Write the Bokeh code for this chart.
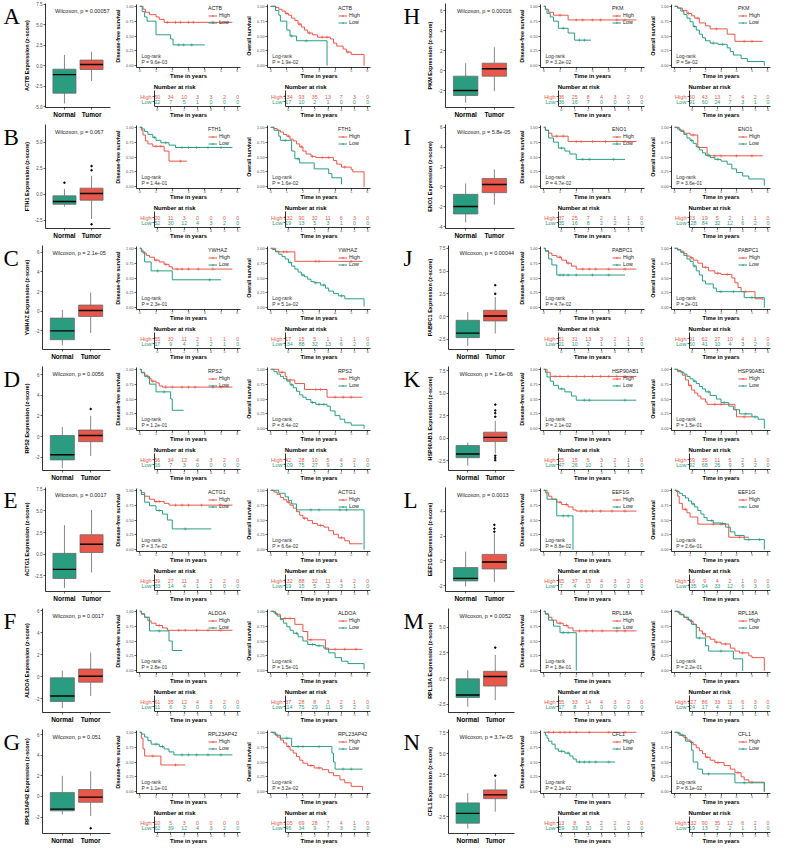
from bokeh.plotting import figure
from bokeh.models import (Range1d, FactorRange, FixedTicker, Label, Legend, LegendItem,
                          Spacer, NumeralTickFormatter)
from bokeh.layouts import row, column
from bokeh.embed import file_html
from bokeh.resources import INLINE
from bokeh.core.properties import value

# ---------------------------------------------------------------- data
GENES = ["ACTB", "FTH1", "YWHAZ", "RPS2", "ACTG1", "ALDOA", "RPL23AP42",
         "PKM", "ENO1", "PABPC1", "HSP90AB1", "EEF1G", "RPL18A", "CFL1"]
LETTERS = ["A", "B", "C", "D", "E", "F", "G", "H", "I", "J", "K", "L", "M", "N"]
GROUPS = ["Normal", "Tumor"]
TIME_TICKS = [0, 1, 2, 3, 4, 5, 6]
SURV_TICKS = [0, 0.25, 0.5, 0.75, 1.0]

WILCOX_P = ["0.00057", "0.067", "2.1e-05", "0.0056", "0.0017", "0.0017", "0.051",
            "0.00016", "5.8e-05", "0.00044", "1.6e-06", "0.0013", "0.0052", "3.7e-05"]
DFS_P = ["9.6e-03", "1.4e-01", "2.3e-01", "1.2e-01", "3.7e-02", "2.8e-01", "1.1e-01",
         "3.2e-02", "4.7e-02", "4.7e-02", "2.1e-02", "8.8e-02", "1.8e-01", "2.1e-02"]
OS_P = ["1.9e-02", "1.6e-02", "5.1e-02", "8.4e-02", "6.6e-02", "1.5e-01", "3.2e-02",
        "5e-02", "3.6e-01", "2e-01", "1.5e-01", "2.6e-01", "2.2e-01", "8.1e-02"]

# boxplot stats: (lower whisker, q1, median, q3, upper whisker)
BOX_NORMAL = [(-4.6, -3.35, -1.08, -0.42, 1.32), (-1.2, -0.97, -0.7, -0.16, 0.5),
              (-3.5, -2.9, -2.0, -0.7, 0.13), (-3.07, -2.27, -1.77, 0.1, 0.93),
              (-3.9, -2.8, -1.75, 0.1, 3.35), (-2.85, -2.25, -1.75, -0.1, 0.55),
              (-1.73, -1.4, -1.23, 0.37, 2.0), (-3.23, -2.5, -2.0, -0.57, 0.73),
              (-3.58, -2.73, -1.98, -0.75, 0.34), (-3.2, -2.3, -1.8, -0.4, 0.5),
              (-3.07, -2.17, -1.76, -0.82, -0.5), (-2.05, -1.6, -1.4, -0.53, 0.75),
              (-2.73, -1.84, -1.6, -0.03, 0.8), (-3.9, -3.27, -2.1, -0.85, 0.3)]
BOX_TUMOR = [(-1.87, -0.46, 0.16, 0.69, 1.72), (-2.4, -0.58, 0.06, 0.58, 1.77),
             (-2.2, -0.53, 0.07, 0.63, 1.9), (-1.9, -0.5, 0.1, 0.63, 2.0),
             (-2.1, 0.2, 1.15, 2.25, 5.1), (-1.75, -0.5, 0.05, 0.7, 2.2),
             (-1.9, -0.57, -0.07, 0.67, 2.43), (-2.07, -0.57, 0.17, 0.73, 2.33),
             (-1.8, -0.58, 0.24, 0.85, 1.77), (-1.85, -0.47, 0.07, 0.7, 2.15),
             (-1.7, -0.37, 0.1, 0.67, 1.95), (-1.7, -0.64, -0.08, 0.53, 2.2),
             (-2.1, -0.73, 0.2, 0.7, 2.3), (-1.9, -0.35, 0.1, 0.7, 1.96)]
OUT_NORMAL = [[], [1.1], [], [], [], [], [], [], [], [], [], [], [], []]
OUT_TUMOR = [[], [2.3, 2.7, -2.9], [], [2.67], [], [], [-3.1], [], [], [2.5, 3.45],
             [2.4, 2.8, 3.1, 3.75, -1.95, -2.2, -2.45], [2.35, 2.6, 2.9], [3.0], [2.4]]
BOX_YLIM = [(-5.1, 7.6), (-3.3, 6.7), (-3.9, 6.7), (-3.3, 6.8), (-4.3, 7.7), (-3.25, 6.2),
            (-3.6, 6.5), (-3.7, 6.7), (-4.2, 6.3), (-3.6, 7.8), (-3.6, 8.0), (-2.45, 5.9),
            (-3.3, 6.8), (-4.5, 7.9)]
BOX_TICKS = [[-5, -2.5, 0, 2.5, 5, 7.5], [-2.5, 0, 2.5, 5], [-2, 0, 2, 4, 6], [-2, 0, 2, 4, 6],
             [-2.5, 0, 2.5, 5, 7.5], [-2, 0, 2, 4, 6], [-2, 0, 2, 4, 6], [-2, 0, 2, 4, 6],
             [-4, -2, 0, 2, 4, 6], [-2.5, 0, 2.5, 5, 7.5], [-2.5, 0, 2.5, 5, 7.5], [-2, 0, 2, 4],
             [-2.5, 0, 2.5, 5], [-2.5, 0, 2.5, 5, 7.5]]

# numbers at risk at t = 0..6
DFS_RISK_HIGH = [[50, 34, 10, 3, 3, 2, 0], [20, 11, 3, 0, 0, 0, 0], [55, 32, 11, 2, 1, 1, 0],
                 [56, 34, 12, 4, 3, 2, 0], [39, 27, 11, 3, 2, 2, 0], [61, 35, 12, 4, 3, 2, 0],
                 [10, 5, 3, 0, 0, 0, 0], [36, 25, 8, 4, 3, 2, 0], [37, 25, 7, 2, 1, 1, 0],
                 [51, 31, 13, 3, 2, 1, 0], [25, 15, 5, 3, 2, 1, 0], [65, 37, 15, 4, 3, 2, 0],
                 [55, 33, 14, 4, 3, 2, 0], [13, 8, 5, 2, 2, 2, 0]]
DFS_RISK_LOW = [[22, 7, 5, 1, 0, 0, 0], [52, 30, 12, 4, 3, 2, 0], [17, 9, 4, 2, 2, 1, 0],
                [16, 7, 3, 0, 0, 0, 0], [33, 14, 4, 1, 1, 0, 0], [11, 6, 3, 0, 0, 0, 0],
                [62, 39, 12, 4, 3, 2, 0], [36, 16, 7, 0, 0, 0, 0], [35, 16, 8, 2, 2, 1, 0],
                [21, 10, 2, 1, 1, 1, 0], [47, 26, 10, 1, 1, 1, 0], [7, 4, 0, 0, 0, 0, 0],
                [17, 8, 1, 0, 0, 0, 0], [59, 33, 10, 2, 1, 0, 0]]
OS_RISK_HIGH = [[134, 93, 35, 13, 7, 3, 0], [132, 90, 32, 11, 6, 3, 0], [17, 15, 5, 1, 1, 1, 0],
                [42, 28, 10, 5, 4, 2, 0], [132, 88, 32, 11, 4, 2, 0], [37, 28, 8, 3, 2, 1, 0],
                [105, 69, 28, 7, 4, 1, 0], [60, 43, 13, 7, 4, 2, 0], [23, 19, 5, 2, 1, 1, 0],
                [91, 62, 27, 10, 4, 1, 0], [59, 35, 11, 5, 2, 1, 0], [16, 9, 4, 2, 1, 0, 0],
                [127, 86, 33, 11, 6, 3, 0], [132, 90, 35, 12, 6, 2, 0]]
OS_RISK_LOW = [[17, 10, 2, 1, 0, 0, 0], [19, 13, 5, 3, 1, 0, 0], [134, 88, 32, 13, 6, 2, 0],
               [109, 75, 27, 9, 3, 1, 0], [19, 15, 5, 3, 3, 1, 0], [114, 75, 29, 11, 5, 2, 0],
               [46, 34, 9, 7, 3, 2, 0], [91, 60, 24, 7, 3, 1, 0], [128, 84, 32, 12, 6, 2, 0],
               [60, 41, 10, 4, 3, 2, 0], [92, 68, 26, 9, 5, 2, 0], [135, 94, 33, 12, 6, 3, 0],
               [24, 17, 4, 3, 1, 0, 0], [19, 13, 2, 2, 1, 1, 0]]

# Kaplan-Meier curves: (time, survival after the step); censor times
ACTB_DFS_HIGH = [(0.2, .95), (0.35, .9), (0.6, .86), (1.0, .82), (1.2, .78), (1.5, .73), (5.7, .73)]
ACTB_DFS_HIGH_C = [1.7, 2.2, 2.5, 3.0, 3.3, 4.5, 5.0]
ACTB_DFS_LOW = [(0.15, .91), (0.3, .82), (0.45, .75), (1.0, .52), (1.9, .45), (2.05, .35), (4.0, .35)]
ACTB_DFS_LOW_C = [2.4, 2.7, 3.2]
ACTB_OS_HIGH = [(0.3, .98), (0.5, .95), (0.7, .92), (0.9, .88), (1.1, .85), (1.3, .8), (1.5, .76),
                (1.7, .7), (1.9, .65), (2.1, .6), (2.3, .55), (2.6, .52), (2.9, .48), (3.7, .45),
                (3.9, .38), (4.1, .33), (4.5, .28), (4.7, .23), (5.0, .19), (5.8, 0.0)]
ACTB_OS_HIGH_C = [1.0, 1.8, 2.4, 3.2, 3.5, 4.8]
ACTB_OS_LOW = [(0.3, .93), (0.5, .85), (0.6, .75), (1.0, .6), (1.2, .5), (1.6, .42), (3.5, 0.0)]
ACTB_OS_LOW_C = [1.3, 2.2]

FTH1_DFS_HIGH = [(0.1, .95), (0.2, .87), (0.35, .77), (0.5, .72), (0.8, .68), (1.5, .6), (1.8, .43), (2.9, .43)]
FTH1_DFS_HIGH_C = [1.0, 1.3, 2.5]
FTH1_DFS_LOW = [(0.15, .97), (0.3, .93), (0.5, .88), (0.8, .83), (1.0, .78), (1.3, .74), (1.8, .7),
                (2.2, .66), (5.7, .66)]
FTH1_DFS_LOW_C = [0.9, 1.6, 2.6, 3.0, 3.5, 4.2, 5.0]
FTH1_OS_HIGH = [(0.2, .98), (0.4, .95), (0.6, .92), (0.8, .88), (1.0, .85), (1.2, .8), (1.4, .77),
                (1.6, .72), (1.8, .67), (2.0, .6), (2.2, .55), (2.5, .51), (2.8, .49), (3.9, .44),
                (4.1, .38), (4.4, .33), (5.0, .29), (5.1, .25), (5.8, 0.0)]
FTH1_OS_HIGH_C = [1.1, 1.9, 2.6, 3.2, 3.6, 4.6]
FTH1_OS_LOW = [(0.2, .95), (0.5, .85), (0.6, .78), (1.3, .6), (1.5, .47), (1.8, .4), (2.7, .3),
               (3.6, .22), (3.8, .15), (4.4, .04)]
FTH1_OS_LOW_C = [0.9, 1.7]

YWHAZ_DFS_HIGH = [(0.1, .97), (0.2, .92), (0.4, .88), (0.6, .85), (0.9, .8), (1.2, .77), (1.5, .73),
                  (1.8, .69), (2.0, .65), (5.7, .65)]
YWHAZ_DFS_HIGH_C = [1.0, 1.6, 2.3, 2.6, 3.0, 3.6, 4.5]
YWHAZ_DFS_LOW = [(0.1, .94), (0.3, .77), (0.7, .62), (2.0, .47), (5.0, .47)]
YWHAZ_DFS_LOW_C = [1.1, 4.3]
YWHAZ_OS_HIGH = [(0.3, .94), (1.5, .78), (5.7, .78)]
YWHAZ_OS_HIGH_C = [0.8, 1.0, 2.8, 3.0, 5.0]
YWHAZ_OS_LOW = [(0.1, .98), (0.3, .95), (0.5, .9), (0.7, .86), (0.9, .82), (1.1, .76), (1.3, .7),
                (1.5, .65), (1.7, .6), (1.9, .55), (2.1, .52), (2.3, .48), (2.5, .44), (2.7, .42),
                (3.1, .38), (3.4, .33), (3.6, .28), (3.9, .24), (4.2, .2), (4.6, .15), (5.8, .02)]
YWHAZ_OS_LOW_C = [1.2, 2.0, 2.8, 3.3, 4.4]

RPS2_DFS_HIGH = [(0.1, .95), (0.3, .9), (0.5, .85), (0.7, .8), (1.0, .77), (1.2, .72), (1.4, .7), (5.7, .7)]
RPS2_DFS_HIGH_C = [0.8, 1.6, 2.0, 2.6, 3.0, 3.4, 4.5, 5.0]
RPS2_DFS_LOW = [(0.1, .94), (0.3, .88), (0.6, .75), (1.0, .62), (1.9, .5), (2.0, .31), (2.7, .31)]
RPS2_DFS_LOW_C = [1.5]
RPS2_OS_HIGH = [(0.5, .95), (0.9, .88), (1.0, .82), (1.5, .76), (2.1, .66), (3.5, .53), (5.7, .53)]
RPS2_OS_HIGH_C = [0.7, 1.2, 2.8, 3.1, 4.0, 4.5, 5.0]
RPS2_OS_LOW = [(0.2, .96), (0.4, .92), (0.6, .88), (0.8, .84), (1.0, .8), (1.2, .74), (1.4, .69),
               (1.6, .63), (1.8, .57), (2.0, .53), (2.2, .49), (2.5, .44), (2.8, .41), (3.5, .38),
               (3.7, .3), (4.0, .22), (4.3, .16), (4.6, .1), (5.0, .06), (5.8, 0.0)]
RPS2_OS_LOW_C = [1.3, 2.6, 3.0, 3.3]

ACTG1_DFS_HIGH = [(0.1, .96), (0.3, .9), (0.6, .85), (0.9, .81), (1.5, .78), (1.8, .75), (5.7, .75)]
ACTG1_DFS_HIGH_C = [1.0, 1.2, 2.2, 2.6, 3.0, 3.8, 5.0]
ACTG1_DFS_LOW = [(0.1, .93), (0.3, .8), (0.6, .74), (1.0, .66), (1.4, .6), (1.7, .5), (2.0, .35), (4.4, .35)]
ACTG1_DFS_LOW_C = [1.2, 2.8]
ACTG1_OS_HIGH = [(0.2, .97), (0.4, .93), (0.6, .88), (0.8, .84), (1.0, .8), (1.2, .75), (1.4, .7),
                 (1.6, .64), (1.8, .58), (2.0, .53), (2.3, .49), (2.6, .44), (2.9, .41), (3.3, .38),
                 (3.6, .32), (3.9, .26), (4.2, .2), (4.6, .15), (4.9, .1), (5.7, .1)]
ACTG1_OS_HIGH_C = [1.1, 2.1, 3.1, 4.4]
ACTG1_OS_LOW = [(0.5, .95), (0.9, .89), (1.1, .83), (1.3, .77), (1.6, .67), (5.8, 0.0)]
ACTG1_OS_LOW_C = [2.5, 3.0, 4.3, 4.7]

ALDOA_DFS_HIGH = [(0.1, .95), (0.3, .9), (0.5, .84), (0.7, .8), (1.0, .76), (1.4, .72), (1.7, .68), (5.7, .68)]
ALDOA_DFS_HIGH_C = [1.2, 2.4, 2.8, 3.5, 4.2, 5.0]
ALDOA_DFS_LOW = [(0.1, .96), (0.3, .9), (0.6, .67), (1.8, .5), (2.0, .34), (2.6, .34)]
ALDOA_DFS_LOW_C = [1.2]
ALDOA_OS_HIGH = [(0.3, .95), (0.6, .88), (1.5, .78), (2.0, .66), (2.3, .52), (3.4, .36), (5.7, .36)]
ALDOA_OS_HIGH_C = [0.9, 1.2, 2.5, 4.0, 4.6, 5.3]
ALDOA_OS_LOW = [(0.2, .97), (0.4, .92), (0.6, .86), (0.8, .8), (1.0, .74), (1.2, .68), (1.4, .63),
                (1.7, .57), (2.0, .5), (2.3, .44), (2.8, .42), (3.3, .38), (3.6, .3), (4.0, .22),
                (4.4, .16), (4.8, .12), (5.8, .02)]
ALDOA_OS_LOW_C = [1.6, 2.6, 3.0]

RPL23AP42_DFS_HIGH = [(0.1, .9), (0.2, .72), (0.3, .6), (1.3, .45), (2.8, .45)]
RPL23AP42_DFS_HIGH_C = [0.8, 2.2]
RPL23AP42_DFS_LOW = [(0.1, .97), (0.3, .92), (0.5, .86), (0.7, .8), (1.2, .76), (1.5, .72), (1.8, .67),
                     (2.1, .62), (5.7, .62)]
RPL23AP42_DFS_LOW_C = [1.0, 1.4, 2.6, 3.0, 3.5, 4.2, 5.0]
RPL23AP42_OS_HIGH = [(0.2, .97), (0.4, .92), (0.6, .87), (0.8, .82), (1.0, .76), (1.2, .7), (1.4, .65),
                     (1.6, .59), (1.8, .53), (2.0, .48), (2.3, .44), (2.7, .4), (3.2, .37), (3.6, .32),
                     (3.9, .27), (4.3, .2), (4.6, .15), (5.0, .09), (5.7, .02)]
RPL23AP42_OS_HIGH_C = [1.1, 2.5, 3.0]
RPL23AP42_OS_LOW = [(0.3, .95), (0.6, .9), (1.3, .76), (3.8, .65), (3.9, .5), (4.0, .38), (5.7, .38)]
RPL23AP42_OS_LOW_C = [1.0, 1.7, 2.0, 3.0, 4.5, 5.0]

PKM_DFS_HIGH = [(0.1, .95), (0.3, .9), (0.6, .85), (1.5, .77), (5.7, .77)]
PKM_DFS_HIGH_C = [1.0, 2.0, 2.4, 3.0, 3.5, 4.5, 5.0]
PKM_DFS_LOW = [(0.1, .95), (0.2, .88), (0.4, .82), (0.6, .75), (0.9, .63), (1.5, .55), (1.9, .43), (2.9, .43)]
PKM_DFS_LOW_C = [1.2, 2.2, 2.5]
PKM_OS_HIGH = [(0.2, .97), (0.5, .93), (0.8, .88), (1.1, .84), (1.3, .8), (1.6, .72), (2.0, .67),
               (2.3, .62), (3.4, .53), (3.9, .41), (5.7, .41)]
PKM_OS_HIGH_C = [0.9, 1.5, 2.7, 4.5, 5.0]
PKM_OS_LOW = [(0.2, .97), (0.4, .92), (0.6, .86), (0.8, .8), (1.0, .74), (1.2, .66), (1.4, .6),
              (1.6, .53), (1.8, .47), (2.0, .42), (2.3, .38), (2.8, .36), (3.4, .3), (3.6, .24),
              (3.8, .18), (4.3, .12), (4.7, .07), (5.8, 0.0)]
PKM_OS_LOW_C = [1.3, 2.5, 3.1]

ENO1_DFS_HIGH = [(0.1, .95), (0.3, .9), (0.5, .85), (1.5, .76), (5.7, .76)]
ENO1_DFS_HIGH_C = [0.8, 1.2, 2.0, 2.3, 3.0, 3.8, 4.5, 5.0]
ENO1_DFS_LOW = [(0.1, .95), (0.3, .82), (0.6, .75), (0.9, .65), (1.3, .6), (1.6, .55), (2.0, .46), (5.0, .46)]
ENO1_DFS_LOW_C = [1.1, 2.4, 2.8, 4.3]
ENO1_OS_HIGH = [(0.3, .95), (0.6, .9), (1.0, .87), (1.5, .66), (2.1, .52), (5.7, .52)]
ENO1_OS_HIGH_C = [1.2, 2.6, 3.0, 4.0, 5.0]
ENO1_OS_LOW = [(0.2, .97), (0.4, .93), (0.6, .88), (0.8, .82), (1.0, .78), (1.2, .73), (1.4, .67),
               (1.6, .62), (1.8, .57), (2.0, .53), (2.3, .49), (2.6, .46), (3.0, .43), (3.4, .38),
               (3.7, .3), (4.0, .24), (4.4, .18), (4.8, .13), (5.8, .02)]
ENO1_OS_LOW_C = [1.1, 2.2, 2.8]

PABPC1_DFS_HIGH = [(0.1, .96), (0.3, .92), (0.5, .88), (0.8, .85), (1.1, .8), (1.4, .75), (1.7, .7),
                   (2.0, .65), (5.7, .65)]
PABPC1_DFS_HIGH_C = [1.0, 1.5, 2.4, 2.8, 3.2, 4.0, 5.0]
PABPC1_DFS_LOW = [(0.1, .95), (0.3, .82), (0.5, .72), (0.8, .55), (5.0, .55)]
PABPC1_DFS_LOW_C = [1.0, 1.2, 1.5, 2.0, 3.0, 4.0]
PABPC1_OS_HIGH = [(0.2, .98), (0.4, .95), (0.6, .91), (0.8, .87), (1.0, .84), (1.2, .8), (1.5, .75),
                  (1.8, .68), (2.2, .62), (2.6, .58), (3.0, .56), (3.7, .5), (3.9, .42), (4.1, .34),
                  (4.3, .27), (5.2, .15), (5.7, .13)]
PABPC1_OS_HIGH_C = [1.1, 2.0, 2.8, 3.4, 4.6]
PABPC1_OS_LOW = [(0.2, .97), (0.4, .93), (0.6, .88), (0.8, .82), (1.0, .78), (1.2, .7), (1.4, .62),
                 (1.6, .55), (1.8, .45), (2.0, .4), (2.5, .33), (2.7, .27), (4.5, .17), (5.8, 0.0)]
PABPC1_OS_LOW_C = [1.3, 3.0, 3.8, 5.0]

HSP90AB1_DFS_HIGH = [(0.2, .95), (0.4, .88), (5.7, .88)]
HSP90AB1_DFS_HIGH_C = [0.7, 1.0, 1.5, 2.0, 2.5, 3.0, 3.5, 4.0, 4.5, 5.0]
HSP90AB1_DFS_LOW = [(0.1, .95), (0.2, .87), (0.4, .8), (0.6, .73), (0.9, .67), (1.3, .62), (1.7, .55),
                    (2.0, .48), (5.7, .48)]
HSP90AB1_DFS_LOW_C = [1.1, 2.5, 2.8, 5.0]
HSP90AB1_OS_HIGH = [(0.2, .96), (0.5, .9), (0.7, .82), (0.9, .73), (1.1, .65), (1.3, .6), (1.5, .55),
                    (1.7, .5), (2.0, .45), (2.1, .41), (3.9, .32), (4.0, .2), (5.0, .2)]
HSP90AB1_OS_HIGH_C = [1.0, 2.6, 3.0, 4.5]
HSP90AB1_OS_LOW = [(0.2, .98), (0.4, .95), (0.6, .92), (0.8, .88), (1.0, .84), (1.2, .8), (1.4, .76),
                   (1.6, .71), (1.8, .67), (2.0, .62), (2.3, .56), (2.7, .5), (3.0, .44), (3.5, .38),
                   (3.8, .32), (4.2, .25), (5.0, .2), (5.4, .16), (5.8, 0.0)]
HSP90AB1_OS_LOW_C = [1.3, 2.2, 3.2, 4.6, 5.2]

EEF1G_DFS_HIGH = [(0.1, .96), (0.3, .9), (0.5, .85), (0.8, .8), (1.1, .76), (1.5, .72), (1.8, .67),
                  (2.0, .65), (5.7, .65)]
EEF1G_DFS_HIGH_C = [1.0, 1.4, 2.3, 2.6, 3.0, 3.5, 4.2, 5.0]
EEF1G_DFS_LOW = [(0.2, .85), (0.8, .57), (1.8, 0.0)]
EEF1G_DFS_LOW_C = [1.2, 1.5]
EEF1G_OS_HIGH = [(0.2, .9), (0.3, .78), (0.5, .68), (0.8, .62), (1.0, .55), (1.5, .43), (3.5, .21), (4.8, .21)]
EEF1G_OS_HIGH_C = [0.7, 2.5, 3.0, 4.2]
EEF1G_OS_LOW = [(0.1, .98), (0.3, .95), (0.5, .91), (0.7, .87), (0.9, .82), (1.1, .77), (1.3, .72),
                (1.5, .66), (1.7, .6), (1.9, .54), (2.1, .49), (2.5, .45), (3.0, .44), (3.3, .38),
                (3.6, .3), (3.9, .24), (4.5, .17), (5.8, 0.0)]
EEF1G_OS_LOW_C = [1.2, 2.4, 3.1, 4.8, 5.5]

RPL18A_DFS_HIGH = [(0.1, .96), (0.3, .9), (0.5, .85), (0.8, .8), (1.2, .76), (1.5, .72), (1.8, .67), (5.7, .67)]
RPL18A_DFS_HIGH_C = [1.0, 1.4, 2.2, 2.6, 3.0, 3.6, 4.5, 5.0]
RPL18A_DFS_LOW = [(0.1, .95), (0.3, .85), (0.6, .75), (1.0, .64), (2.0, 0.0)]
RPL18A_DFS_LOW_C = [1.2, 1.5]
RPL18A_OS_HIGH = [(0.2, .98), (0.4, .94), (0.6, .9), (0.8, .86), (1.0, .83), (1.2, .78), (1.4, .73),
                  (1.6, .67), (1.8, .62), (2.0, .57), (2.3, .53), (2.6, .48), (3.0, .45), (3.6, .38),
                  (3.9, .33), (4.2, .3), (4.8, .25), (5.0, .22), (5.8, 0.0)]
RPL18A_OS_HIGH_C = [1.1, 1.9, 2.7, 3.3, 4.4]
RPL18A_OS_LOW = [(0.3, .95), (0.6, .9), (0.9, .85), (1.1, .78), (1.4, .55), (2.0, .42), (2.2, .33),
                 (3.8, .2), (4.4, 0.0)]
RPL18A_OS_LOW_C = [1.6, 3.0]

CFL1_DFS_HIGH = [(5.7, 1.0)]
CFL1_DFS_HIGH_C = [0.3, 0.6, 1.0, 1.3, 1.6, 2.0, 2.8, 4.0, 5.0]
CFL1_DFS_LOW = [(0.1, .95), (0.2, .9), (0.3, .85), (0.5, .8), (0.7, .72), (0.9, .68), (1.3, .65),
                (1.6, .6), (1.8, .55), (2.0, .5), (4.4, .5)]
CFL1_DFS_LOW_C = [1.1, 1.5, 2.2, 2.5, 2.8, 3.2, 4.0]
CFL1_OS_HIGH = [(0.2, .98), (0.4, .95), (0.6, .91), (0.8, .87), (1.0, .83), (1.2, .79), (1.4, .74),
                (1.6, .69), (1.8, .64), (2.0, .58), (2.3, .53), (2.6, .49), (3.2, .44), (3.6, .38),
                (3.9, .32), (4.3, .25), (4.5, .2), (4.8, .16), (5.8, 0.0)]
CFL1_OS_HIGH_C = [1.1, 2.1, 2.8, 4.1, 5.0]
CFL1_OS_LOW = [(0.3, .95), (0.7, .85), (1.1, .7), (1.2, .5), (1.5, .38), (1.8, .3), (3.9, .15), (5.8, 0.0)]
CFL1_OS_LOW_C = [0.5, 2.2, 4.5]

_G = globals()
KM = {g: {k: _G[f"{g}_{k}"] for k in ("DFS_HIGH", "DFS_HIGH_C", "DFS_LOW", "DFS_LOW_C",
                                        "OS_HIGH", "OS_HIGH_C", "OS_LOW", "OS_LOW_C")}
      for g in GENES}

# ---------------------------------------------------------------- style
FONT = "Liberation Sans"
SERIF = "Liberation Serif"
RED = "#E8574A"
GREEN = "#2A9D80"
BOX_LINE = "#6a6a6a"
TICK_COL = "#4d4d4d"

ROW_H = 121
KM_H = 82
RISK_H = 39
MBL_KM = 24
MBB = 15
RISK_MBL = 2
RISK_TOP = 4.6


def base(p):
    p.xgrid.visible = False
    p.ygrid.visible = False
    p.outline_line_color = None
    p.background_fill_color = "white"
    for ax in (p.xaxis, p.yaxis):
        ax.axis_line_color = "black"
        ax.axis_line_width = 0.8
        ax.major_tick_line_color = "black"
        ax.major_tick_line_width = 0.6
        ax.major_tick_out = 2
        ax.major_tick_in = 0
        ax.minor_tick_line_color = None
        ax.major_label_standoff = 0
        ax.axis_label_standoff = 0
        ax.major_label_text_font = FONT
        ax.axis_label_text_font = FONT
        ax.axis_label_text_font_style = "bold"
        ax.axis_label_text_color = "black"
        ax.major_label_text_color = TICK_COL


def time_axis(p):
    p.xaxis.ticker = FixedTicker(ticks=TIME_TICKS)
    p.xaxis.major_label_text_font_size = "3.6px"
    p.xaxis.axis_label = "Time in years"
    p.xaxis.axis_label_text_font_size = "5.8px"
    p.xaxis.major_label_standoff = -1
    p.xaxis.axis_label_standoff = -2


def surv_at(curve, t):
    s = 1.0
    for ti, si in curve:
        if ti <= t:
            s = si
        else:
            break
    return s


def letter_fig(i, width, xoff):
    p = figure(width=width, height=ROW_H, x_range=Range1d(0, width), y_range=Range1d(0, ROW_H),
               output_backend="svg", toolbar_location=None, min_border=0)
    p.axis.visible = False
    p.grid.visible = False
    p.outline_line_color = None
    p.text(x=[xoff], y=[ROW_H - 1], text=[LETTERS[i]], text_font=value(SERIF),
           text_font_size="23px", text_color="black", text_baseline="top", text_align="left")
    return p


def box_fig(i, width, mbl, mbr, wil_x):
    ylim = BOX_YLIM[i]
    p = figure(width=width, height=ROW_H,
               x_range=FactorRange(factors=GROUPS, range_padding=0.2, range_padding_units="absolute"),
               y_range=Range1d(*ylim), output_backend="svg", toolbar_location=None,
               min_border_left=mbl, min_border_right=mbr, min_border_top=3, min_border_bottom=14)
    base(p)
    nb, tb = BOX_NORMAL[i], BOX_TUMOR[i]
    lo = [nb[0], tb[0]]
    q1 = [nb[1], tb[1]]
    med = [nb[2], tb[2]]
    q3 = [nb[3], tb[3]]
    hi = [nb[4], tb[4]]
    p.segment(x0=GROUPS, y0=lo, x1=GROUPS, y1=q1, line_color=BOX_LINE, line_width=0.8)
    p.segment(x0=GROUPS, y0=q3, x1=GROUPS, y1=hi, line_color=BOX_LINE, line_width=0.8)
    p.vbar(x=GROUPS, bottom=q1, top=q3, width=0.85, fill_color=[GREEN, RED],
           line_color=BOX_LINE, line_width=0.8)
    p.vbar(x=GROUPS, bottom=med, top=med, width=0.85, fill_alpha=0,
           line_color="black", line_width=1.4)
    ox = ["Normal"] * len(OUT_NORMAL[i]) + ["Tumor"] * len(OUT_TUMOR[i])
    oy = list(OUT_NORMAL[i]) + list(OUT_TUMOR[i])
    p.scatter(x=ox, y=oy, size=1.6, color="black")
    ticks = BOX_TICKS[i]
    p.yaxis.ticker = FixedTicker(ticks=ticks)
    fmt = "0" if all(float(t).is_integer() for t in ticks) else "0.0"
    p.yaxis.formatter = NumeralTickFormatter(format=fmt)
    p.yaxis.major_label_text_font_size = "4.5px"
    p.yaxis.major_label_standoff = 1
    p.yaxis.axis_label_standoff = 2
    p.yaxis.axis_label = f"{GENES[i]} Expression (z-score)"
    p.yaxis.axis_label_text_font_size = "5.5px"
    p.xaxis.major_label_text_font_size = "6.5px"
    p.xaxis.major_label_text_font_style = "bold"
    p.xaxis.major_label_text_color = "black"
    p.xaxis.major_label_standoff = 1
    p.add_layout(Label(x=wil_x, y=ylim[1], y_offset=-4, text=f"Wilcoxon, p = {WILCOX_P[i]}",
                       text_font=FONT, text_font_size="5.5px", text_color="#222222",
                       text_baseline="top", text_align="left"))
    return p


def km_fig(i, kind, width, mbr):
    g = GENES[i]
    d = KM[g]
    p = figure(width=width, height=KM_H, x_range=Range1d(-0.2, 6.2), y_range=Range1d(-0.03, 1.03),
               output_backend="svg", toolbar_location=None,
               min_border_left=MBL_KM, min_border_right=mbr, min_border_top=4, min_border_bottom=MBB)
    base(p)
    time_axis(p)
    p.yaxis.ticker = FixedTicker(ticks=SURV_TICKS)
    p.yaxis.formatter = NumeralTickFormatter(format="0.00")
    p.yaxis.major_label_text_font_size = "3.8px"
    p.yaxis.major_label_standoff = 1
    p.yaxis.axis_label_standoff = 2
    p.yaxis.axis_label = "Disease-free survival" if kind == "DFS" else "Overall survival"
    p.yaxis.axis_label_text_font_size = "5.3px"
    items = []
    for lab, col in (("High", RED), ("Low", GREEN)):
        curve = d[f"{kind}_{lab.upper()}"]
        cens = d[f"{kind}_{lab.upper()}_C"]
        xs = [0.0] + [c[0] for c in curve]
        ys = [1.0] + [c[1] for c in curve]
        r = p.step(x=xs, y=ys, mode="after", line_color=col, line_width=1.0)
        cy = [surv_at(curve, t) for t in cens]
        c = p.scatter(x=cens, y=cy, marker="cross", size=3.2, line_color=col, line_width=0.6)
        items.append(LegendItem(label=lab, renderers=[r, c]))
    leg = Legend(items=items, title=g, location="top_right",
                 label_text_font=FONT, label_text_font_size="5.3px", label_text_color="#222222",
                 title_text_font=FONT, title_text_font_size="5.3px", title_text_font_style="normal",
                 title_text_color="#222222", title_standoff=1,
                 glyph_width=9, glyph_height=5, label_height=5, label_standoff=2,
                 spacing=1, padding=0, margin=1, background_fill_alpha=0, border_line_alpha=0)
    p.add_layout(leg)
    pv = DFS_P[i] if kind == "DFS" else OS_P[i]
    p.add_layout(Label(x=0.1, y=0.16, text="Log-rank", text_font=FONT, text_font_size="5px",
                       text_color="#333333", text_baseline="middle"))
    p.add_layout(Label(x=0.1, y=0.06, text=f"P = {pv}", text_font=FONT, text_font_size="5px",
                       text_color="#333333", text_baseline="middle"))
    return p


def risk_fig(i, kind, width, mbr):
    hi = DFS_RISK_HIGH[i] if kind == "DFS" else OS_RISK_HIGH[i]
    lo = DFS_RISK_LOW[i] if kind == "DFS" else OS_RISK_LOW[i]
    k = (width - MBL_KM - mbr) / 6.4
    x0 = -0.2 - (MBL_KM - RISK_MBL) / k
    p = figure(width=width, height=RISK_H, x_range=Range1d(x0, 6.2), y_range=Range1d(0, RISK_TOP),
               output_backend="svg", toolbar_location=None,
               min_border_left=RISK_MBL, min_border_right=mbr, min_border_top=1, min_border_bottom=MBB)
    base(p)
    time_axis(p)
    p.xaxis.bounds = (-0.2, 6.2)
    p.yaxis.ticker = FixedTicker(ticks=[1, 2])
    p.yaxis.major_label_overrides = {1: "", 2: ""}
    p.yaxis.fixed_location = -0.2
    p.yaxis.bounds = (0, 3.2)
    p.text(x=TIME_TICKS, y=[2] * len(hi), text=[str(v) for v in hi], text_color=RED,
           text_font=value(FONT), text_font_size="5.3px", text_align="center", text_baseline="middle")
    p.text(x=TIME_TICKS, y=[1] * len(lo), text=[str(v) for v in lo], text_color=GREEN,
           text_font=value(FONT), text_font_size="5.3px", text_align="center", text_baseline="middle")
    p.add_layout(Label(x=-0.2, y=2, x_offset=-3, text="High", text_font=FONT, text_font_size="5.6px",
                       text_color=RED, text_align="right", text_baseline="middle"))
    p.add_layout(Label(x=-0.2, y=1, x_offset=-3, text="Low", text_font=FONT, text_font_size="5.6px",
                       text_color=GREEN, text_align="right", text_baseline="middle"))
    p.add_layout(Label(x=-0.2, y=RISK_TOP, x_offset=-1, y_offset=0, text="Number at risk",
                       text_font=FONT, text_font_size="6px", text_font_style="bold",
                       text_color="black", text_baseline="top", text_align="left"))
    return p


def half(i, let_w, let_x, box_w, box_mbl, wil_x, km_w1, km_w2, mbr2):
    lf = letter_fig(i, let_w, let_x)
    b = box_fig(i, box_w, box_mbl, 2, wil_x)
    dfs = column(km_fig(i, "DFS", km_w1, 3), risk_fig(i, "DFS", km_w1, 3))
    os_ = column(km_fig(i, "OS", km_w2, mbr2), risk_fig(i, "OS", km_w2, mbr2))
    return [lf, b, dfs, os_]


rows = []
for r in range(7):
    left = half(r, 20, 3, 92, 22, 0.15, 131, 131, 4)
    right = half(r + 7, 33, 13, 93, 22, 0.2, 131, 125, 2)
    rows.append(row(*left, Spacer(width=16, height=ROW_H), *right))

layout = column(*rows)
open("out.html", "w").write(file_html(layout, INLINE))
